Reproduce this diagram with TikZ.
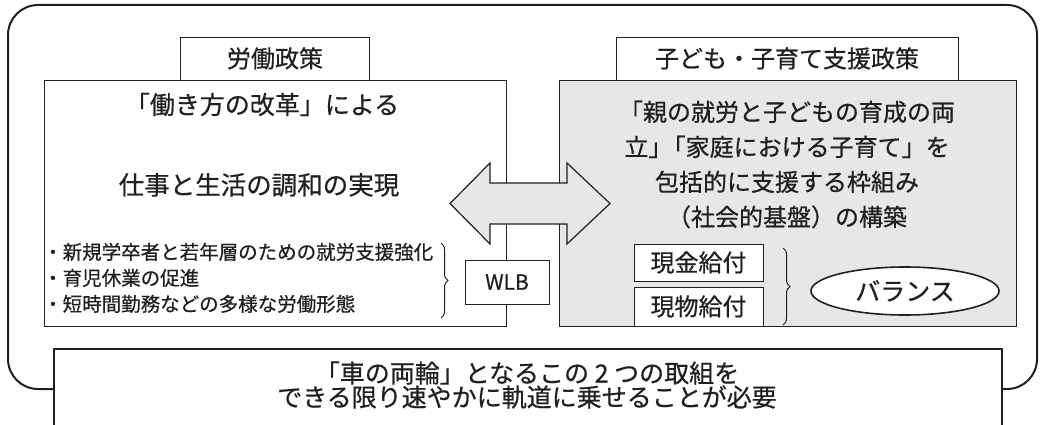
\documentclass[tikz,border=0pt]{standalone}
\usepackage{fontspec}
\setmainfont{Noto Sans CJK JP}[FakeBold=0.6]
\usetikzlibrary{decorations.pathreplacing,shapes.geometric}
\definecolor{ink}{HTML}{231F20}
\definecolor{panel}{HTML}{E6E7E8}
\begin{document}
\begin{tikzpicture}[x=1pt,y=-1pt,
  frame/.style={draw=ink,line width=2pt},
  box/.style={draw=ink,line width=1.2pt,fill=white,inner sep=0pt,anchor=north west},
  txt/.style={inner sep=0pt,anchor=base,text=ink,font=\fontsize{24pt}{28pt}\selectfont},
  big/.style={txt,font=\fontsize{25pt}{28pt}\selectfont},
  small/.style={inner sep=0pt,anchor=base west,text=ink,font=\fontsize{19.5pt}{24pt}\selectfont},
  brc/.style={draw=ink,line width=1pt,decorate,decoration={brace,amplitude=7pt}}]
\useasboundingbox (0,0) rectangle (1040,425);
\clip (0,0) rectangle (1040,425);
% outer frame
\draw[frame,rounded corners=30pt] (8,5) rectangle (1037,389);
% main panels
\node[box,minimum width=462pt,minimum height=246pt] (labor) at (44,80) {};
\node[box,fill=panel,minimum width=457pt,minimum height=246pt] (child) at (559,80) {};
% title boxes
\node[box,minimum width=189pt,minimum height=43pt] (laborT) at (180,37) {};
\node[box,minimum width=342pt,minimum height=43pt] (childT) at (616,37) {};
% double arrow
\draw[draw=ink,line width=1.2pt,fill=panel] (450,203.5) -- (490,163) -- (490,183) -- (567,183) -- (567,163) -- (610,203.5) -- (567,244) -- (567,224) -- (490,224) -- (490,244) -- cycle;
% WLB box
\node[box,minimum width=84pt,minimum height=44pt] (wlb) at (465,260) {};
% benefit boxes
\node[box,minimum width=129pt,minimum height=37pt] (cash) at (634,244) {};
\node[box,minimum width=129pt,minimum height=39pt] (kind) at (634,287) {};
% balance ellipse
\node[draw=ink,line width=1.6pt,fill=white,ellipse,minimum width=188pt,minimum height=48pt,inner sep=0pt] (bal) at (905,291) {};
% braces
\draw[brc] (441,243) -- (441,318);
\draw[brc] (783,248) -- (783,325);
% bottom box
\node[box,line width=2pt,minimum width=948pt,minimum height=100pt] (goal) at (53,348) {};
% texts
\node[txt] (tLabor) at (275,67.5) {労働政策};
\node[txt] (tChild) at (787,67.5) {子ども・子育て支援政策};
\node[big] (tL1) at (262,114) {「働き方の改革」による};
\node[txt,font=\fontsize{25.5pt}{28pt}\selectfont] (tL2) at (259,194.5) {仕事と生活の調和の実現};
\node[txt] (tR1) at (787,121) {「親の就労と子どもの育成の両};
\node[txt] (tR2) at (787,156) {立」\kern-.45em「家庭における子育て」を};
\node[txt] (tR3) at (787,191) {包括的に支援する枠組み};
\node[txt] (tR4) at (787,226) {（社会的基盤）の構築};
\node[small] (b1) at (43,259.3) {・新規学卒者と若年層のための就労支援強化};
\node[small] (b2) at (43,285.3) {・育児休業の促進};
\node[small] (b3) at (43,311.3) {・短時間勤務などの多様な労働形態};
\node[txt,font=\fontsize{21pt}{24pt}\selectfont] (tWLB) at (507,289.7) {WLB};
\node[txt] (tCash) at (698.5,271.5) {現金給付};
\node[txt] (tKind) at (698.5,315.5) {現物給付};
\node[big] (tBal) at (905,300.5) {バランス};
\node[big] (tG1) at (527,382.5) {「車の両輪」となるこの 2 つの取組を};
\node[big] (tG2) at (527,406.5) {できる限り速やかに軌道に乗せることが必要};
\end{tikzpicture}
\end{document}
